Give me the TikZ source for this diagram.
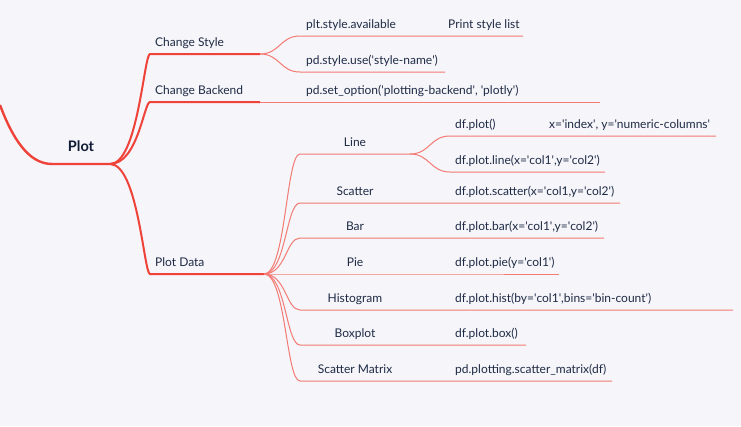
\documentclass[tikz,border=0pt]{standalone}
\usepackage{fontspec}
\setmainfont{Lato}
\usetikzlibrary{calc}
\definecolor{bgc}{HTML}{F5F5FA}
\definecolor{rmain}{HTML}{EF4238}
\definecolor{rsub}{HTML}{F47B73}
\definecolor{tc}{HTML}{1F2B45}
\definecolor{tcb}{HTML}{101C36}
\newcommand\sq{\textquotesingle}
\begin{document}
\begin{tikzpicture}[x=1pt,y=-1pt,
  main/.style={draw=rmain,line width=2pt},
  sub/.style={draw=rsub,line width=1pt},
  lbl/.style={inner sep=0pt,text=tc,font=\fontsize{12}{14}\selectfont,anchor=base west},
  clbl/.style={lbl,anchor=base},
]
\fill[bgc] (0,0) rectangle (741,426);
\useasboundingbox (0,0) rectangle (741,426);
% coordinates
\coordinate (R0) at (0,105);
\coordinate (R1) at (52,164);
\coordinate (P) at (110,164);
\coordinate (CSa) at (150,54);  \coordinate (CSb) at (260,54);
\coordinate (CBa) at (150,102); \coordinate (CBb) at (260,102);
\coordinate (PDa) at (150,274); \coordinate (PDb) at (264,274);
\coordinate (PSAa) at (300,36); \coordinate (PSAb) at (443,36);
\coordinate (PSLb) at (523,36);
\coordinate (PSUa) at (300,72); \coordinate (PSUb) at (445,72);
\coordinate (SOb) at (600,102);
\coordinate (LNa) at (300,154); \coordinate (LNb) at (410,154);
\coordinate (DPa) at (450,136); \coordinate (DPb) at (545,136);
\coordinate (XIb) at (716,136);
\coordinate (DLa) at (450,172); \coordinate (DLb) at (605,172);
\foreach \n/\y/\e in {SC/203/620,BR/238/604,PI/274/559,HI/310/733,BX/345/526,SM/381/612}{
  \coordinate (\n a) at (300,\y);
  \coordinate (\n b) at (450,\y);
  \coordinate (\n c) at (\e,\y);
}
% root
\draw[main,line width=2.4pt] (R0) .. controls (12,137) and (28,164) .. (R1) -- (P);
% level 1
\draw[main] (P) .. controls +(28,0) and +(-6,0) .. (CSa) -- (CSb);
\draw[main] (P) .. controls +(28,0) and +(-6,0) .. (CBa) -- (CBb);
\draw[main] (P) .. controls +(28,0) and +(-6,0) .. (PDa) -- (PDb);
% level 2
\draw[sub] (CSb) .. controls +(20,0) and +(-20,0) .. (PSAa) -- (PSAb) -- (PSLb);
\draw[sub] (CSb) .. controls +(20,0) and +(-20,0) .. (PSUa) -- (PSUb);
\draw[sub] (CBb) -- (SOb);
\draw[sub] (PDb) .. controls +(22,0) and +(-14,0) .. (LNa) -- (LNb);
\foreach \n in {SC,BR,PI,HI,BX,SM}{
  \draw[sub] (PDb) .. controls +(22,0) and +(-14,0) .. (\n a) -- (\n b) -- (\n c);
}
\draw[sub] (LNb) .. controls +(20,0) and +(-20,0) .. (DPa) -- (DPb) -- (XIb);
\draw[sub] (LNb) .. controls +(20,0) and +(-20,0) .. (DLa) -- (DLb);
% labels
\node[inner sep=0pt,anchor=base,text=tcb,font=\fontsize{14.5}{16}\selectfont\bfseries] (plot) at (81,151) {Plot};
\node[lbl] (cs) at (155,46) {Change Style};
\node[lbl] (cb) at (155,94) {Change Backend};
\node[lbl] (pd) at (155,266) {Plot Data};
\node[lbl] (psa) at (306,28) {plt.style.available};
\node[lbl] (psl) at (448,28) {Print style list};
\node[lbl] (psu) at (306,64) {pd.style.use(\sq style-name\sq)};
\node[lbl] (so) at (306,94) {pd.set\_option(\sq plotting-backend\sq, \sq plotly\sq)};
\node[clbl] (ln) at (355,146) {Line};
\node[lbl] (dp) at (455,128) {df.plot()};
\node[lbl] (xi) at (549,128) {x=\sq index\sq, y=\sq numeric-columns\sq};
\node[lbl] (dl) at (455,164) {df.plot.line(x=\sq col1\sq,y=\sq col2\sq)};
\node[clbl] (sc) at (355,195) {Scatter};
\node[lbl] (dsc) at (455,195) {df.plot.scatter(x=\sq col1,y=\sq col2\sq)};
\node[clbl] (br) at (355,230) {Bar};
\node[lbl] (dbr) at (455,230) {df.plot.bar(x=\sq col1\sq,y=\sq col2\sq)};
\node[clbl] (pi) at (355,266) {Pie};
\node[lbl] (dpi) at (455,266) {df.plot.pie(y=\sq col1\sq)};
\node[clbl] (hi) at (355,302) {Histogram};
\node[lbl] (dhi) at (455,302) {df.plot.hist(by=\sq col1\sq,bins=\sq bin-count\sq)};
\node[clbl] (bx) at (355,337) {Boxplot};
\node[lbl] (dbx) at (455,337) {df.plot.box()};
\node[clbl] (sm) at (355,373) {Scatter Matrix};
\node[lbl] (dsm) at (455,373) {pd.plotting.scatter\_matrix(df)};
\end{tikzpicture}
\end{document}
